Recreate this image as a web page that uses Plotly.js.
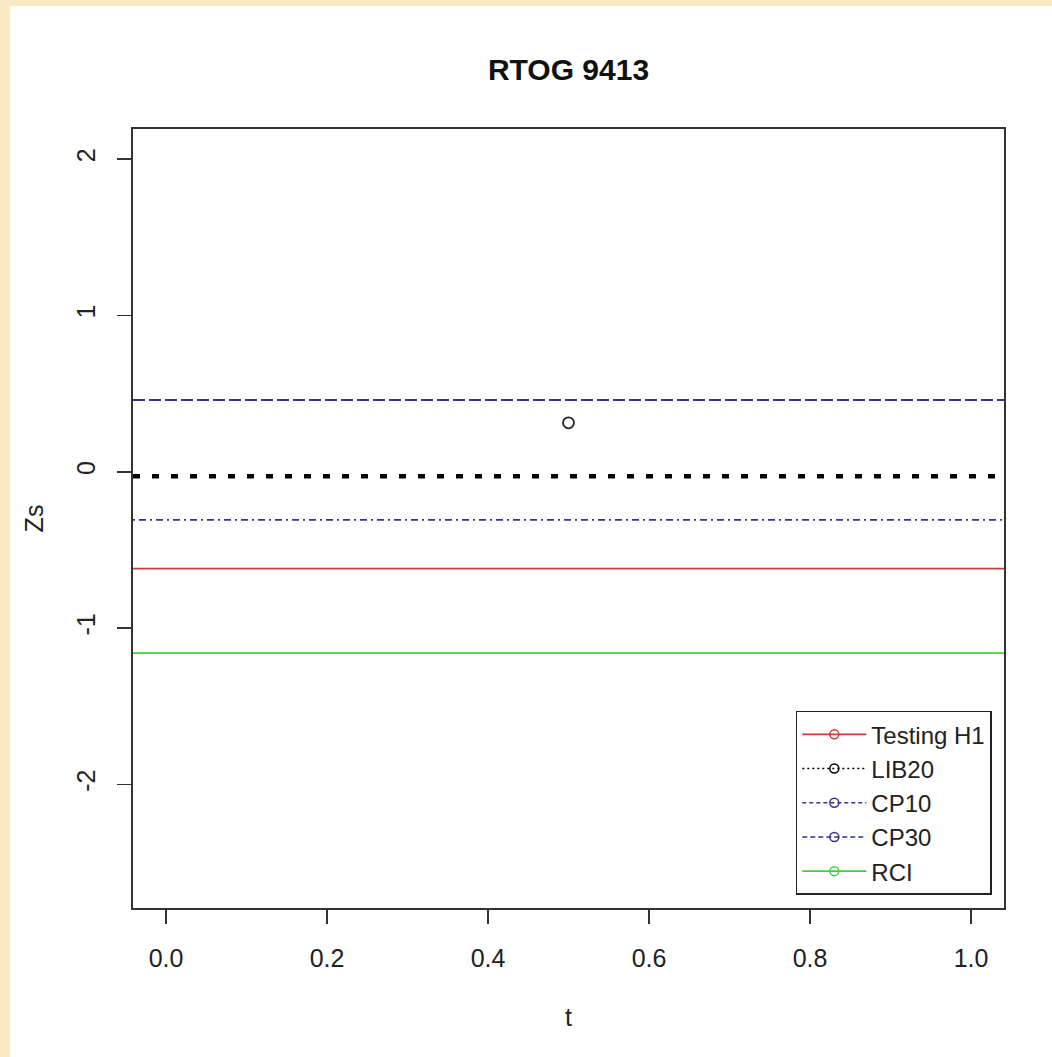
<!DOCTYPE html>
<html>
<head>
<meta charset="utf-8">
<script src="https://cdn.plot.ly/plotly-3.0.1.min.js"></script>
<style>
  html, body { margin: 0; padding: 0; background: #FAE9C4; width: 1052px; height: 1057px; overflow: hidden; }
  #plot { position: absolute; left: 10px; top: 6px; width: 1042px; height: 1051px; background: #ffffff; }
</style>
</head>
<body>
<div id="plot"></div>
<script>
// ---- data ----
const seriesNames = ["Testing H1", "LIB20", "CP10", "CP30", "RCI"];
const seriesLevels = [-0.619, -0.028, -0.308, 0.459, -1.16];   // horizontal reference lines (Zs)
const seriesColors = ["#CC3A3A", "#000000", "#34349A", "#34349A", "#3FCF3F"];
const observedT = [0.5];
const observedZ = [0.313];
const tRange = [-0.041, 1.041];
const zRange = [-2.79, 2.192];
const xTicks = [0, 0.2, 0.4, 0.6, 0.8, 1.0];
const xTickText = ["0.0", "0.2", "0.4", "0.6", "0.8", "1.0"];
const yTicks = [-2, -1, 0, 1, 2];
const yTickText = ["-2", "-1", "0", "1", "2"];

// ---- styles ----
const plotDash = ["solid", "7px,12px", "2px,4px,7px,4px", "12px,4px", "solid"];
const plotWidth = [1.8, 4.5, 1.8, 1.8, 1.8];
const legendDash = ["solid", "2px,3px", "4px,3px", "5px,3px", "solid"];
const legendWidth = [1.6, 1.6, 1.6, 1.6, 1.6];

const traces = [];
seriesNames.forEach((name, i) => {
  traces.push({
    type: "scatter", mode: "lines", name: name, showlegend: false,
    legendgroup: name,
    x: tRange, y: [seriesLevels[i], seriesLevels[i]],
    line: { color: seriesColors[i], width: plotWidth[i], dash: plotDash[i] },
    hoverinfo: "skip"
  });
});
seriesNames.forEach((name, i) => {
  traces.push({
    type: "scatter", mode: "lines+markers", name: name, showlegend: true,
    legendgroup: name,
    x: [null], y: [null],
    line: { color: seriesColors[i], width: legendWidth[i], dash: legendDash[i] },
    marker: { symbol: "circle-open", size: 9, color: seriesColors[i], line: { width: 1.5, color: seriesColors[i] } }
  });
});
traces.push({
  type: "scatter", mode: "markers", name: "Zs", showlegend: false,
  x: observedT, y: observedZ,
  marker: { symbol: "circle-open", size: 11, color: "#222", line: { width: 1.8, color: "#222" } }
});

const font = "Liberation Sans, Arial, sans-serif";
const layout = {
  width: 1042, height: 1051,
  paper_bgcolor: "#ffffff", plot_bgcolor: "#ffffff",
  margin: { l: 123, r: 48, t: 123, b: 149 },
  font: { family: font, size: 24, color: "#222" },
  title: { text: "<b>RTOG 9413</b>", font: { family: font, size: 30, color: "#111" },
           x: 0.5, xref: "paper", xanchor: "center", y: 1 - 63/1051, yanchor: "middle" },
  xaxis: {
    range: tRange, tickvals: xTicks, ticktext: xTickText,
    ticks: "outside", ticklen: 14, tickwidth: 1.5, tickcolor: "#333",
    showline: true, mirror: true, linecolor: "#333", linewidth: 2,
    showgrid: false, zeroline: false,
    tickfont: { family: font, size: 25, color: "#222" },
    ticklabelstandoff: 13,
    title: { text: "t", font: { family: font, size: 25, color: "#222" }, standoff: 37 }
  },
  yaxis: {
    range: zRange, tickvals: yTicks, ticktext: yTickText, tickangle: -90,
    ticks: "outside", ticklen: 14, tickwidth: 1.5, tickcolor: "#333",
    showline: true, mirror: true, linecolor: "#333", linewidth: 2,
    showgrid: false, zeroline: false,
    tickfont: { family: font, size: 25, color: "#222" },
    ticklabelstandoff: 12,
    title: { text: "Zs", font: { family: font, size: 25, color: "#222" }, standoff: 21 }
  },
  legend: {
    x: 0.986, xanchor: "right", y: 0.017, yanchor: "bottom",
    bgcolor: "#ffffff", bordercolor: "#222", borderwidth: 1.5,
    font: { family: font, size: 24, color: "#222" },
    tracegroupgap: 0, itemwidth: 64
  },
  showlegend: true
};

Plotly.newPlot("plot", traces, layout, { displayModeBar: false, staticPlot: true });
</script>
</body>
</html>
